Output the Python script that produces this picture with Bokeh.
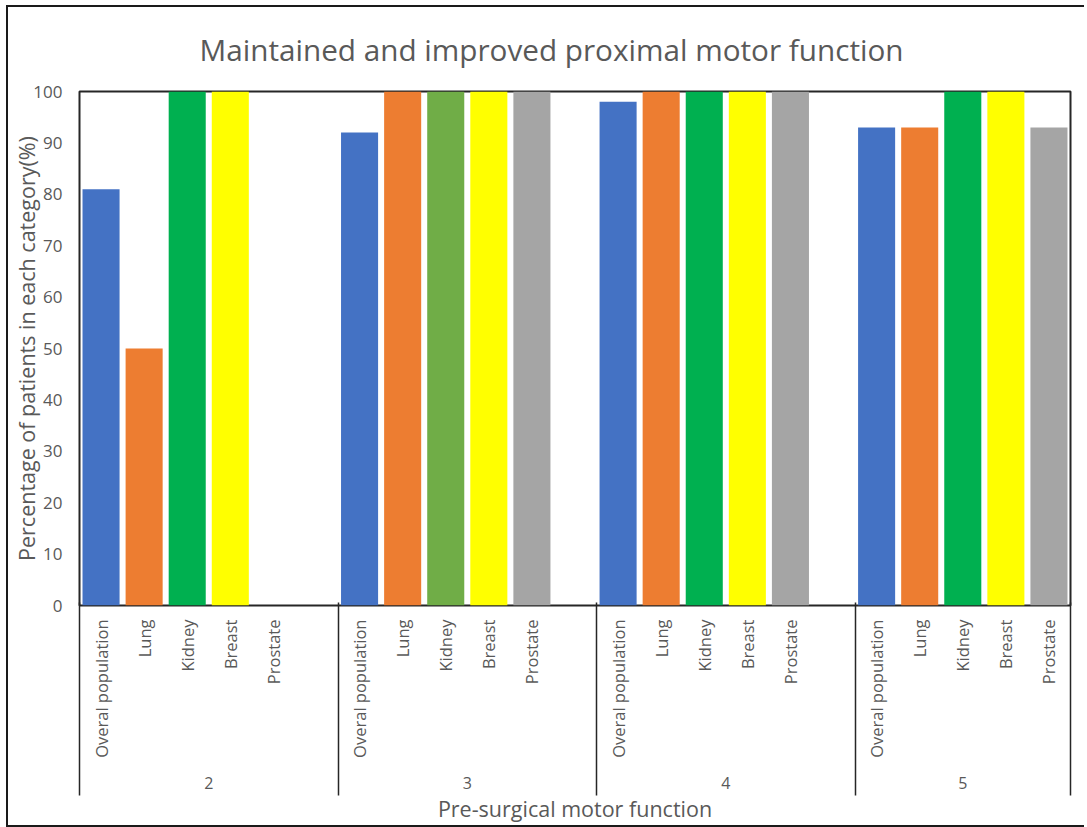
import math
from bokeh.plotting import figure
from bokeh.models import ColumnDataSource, Range1d, FixedTicker, LinearAxis
from bokeh.embed import file_html
from bokeh.resources import INLINE

# ---------------- data ----------------
groups = ["2", "3", "4", "5"]
subcategories = ["Overal population", "Lung", "Kidney", "Breast", "Prostate"]
overall = [81, 92, 98, 93]
lung = [50, 100, 100, 93]
kidney = [100, 100, 100, 100]
breast = [100, 100, 100, 100]
prostate = [None, 100, 100, 93]
series = [overall, lung, kidney, breast, prostate]
colors = ["#4472C4", "#ED7D31", "#00B050", "#FFFF00", "#A5A5A5"]
special_color = {("3", "Kidney"): "#70AD47"}
y_ticks = list(range(0, 101, 10))

title_text = "Maintained and improved proximal motor function"
y_title = "Percentage of patients in each category(%)"
x_title = "Pre-surgical motor function"

FONT = "Open Sans"
TXT = "#595959"
LINE = "#262626"

# slot layout: each group holds its categories plus one empty slot (except the last)
n_sub = len(subcategories)
slots = [n_sub + (1 if i < len(groups) - 1 else 0) for i in range(len(groups))]
offsets = [sum(slots[:i]) for i in range(len(groups))]
total = sum(slots)

xs, tops, cols = [], [], []
label_ticks, label_over = [], {}
for gi, g in enumerate(groups):
    for si, s in enumerate(subcategories):
        xc = offsets[gi] + si + 0.5
        label_ticks.append(xc)
        label_over[xc] = s
        v = series[si][gi]
        if v is None:
            continue
        xs.append(xc)
        tops.append(v)
        cols.append(special_color.get((g, s), colors[si]))

sep_ticks = offsets + [total]
group_centers = [offsets[i] + slots[i] / 2 for i in range(len(groups))]
group_over = {c: g for c, g in zip(group_centers, groups)}

src = ColumnDataSource(dict(x=xs, top=tops, color=cols))

p = figure(frame_width=991, frame_height=514,
           x_range=Range1d(0, total), y_range=Range1d(0, 100),
           output_backend="svg", toolbar_location=None,
           x_axis_location=None,
           min_border_left=71, min_border_right=14,
           min_border_top=84, min_border_bottom=219,
           background_fill_color="white", border_fill_color="white")
p.margin = (5, 0, 0, 6)
p.styles = {"border-left": "2px solid #1a1a1a",
            "border-top": "2px solid #1a1a1a",
            "border-bottom": "2px solid #1a1a1a",
            "border-right": "none"}

p.vbar(x="x", top="top", bottom=0, width=0.86, color="color",
       line_color=None, source=src)

p.outline_line_color = LINE
p.outline_line_width = 2
p.grid.visible = False

# title
p.title.text = title_text
p.title.text_font = FONT
p.title.text_font_size = "29.7px"
p.title.text_font_style = "normal"
p.title.text_color = TXT
p.title.align = "left"
p.title.vertical_align = "top"
p.title.offset = 120
p.title.standoff = 40

# y axis
ya = p.yaxis[0]
ya.ticker = FixedTicker(ticks=y_ticks)
ya.axis_line_color = None
ya.major_tick_line_color = None
ya.minor_tick_line_color = None
ya.major_tick_out = 0
ya.major_tick_in = 0
ya.major_label_standoff = 17
ya.major_label_text_font = FONT
ya.major_label_text_font_size = "17px"
ya.major_label_text_color = TXT
ya.axis_label = y_title
ya.axis_label_text_font = FONT
ya.axis_label_text_font_size = "21.5px"
ya.axis_label_text_font_style = "normal"
ya.axis_label_text_color = TXT
ya.axis_label_standoff = -11

# category axis
cat_axis = LinearAxis(ticker=FixedTicker(ticks=label_ticks),
                      major_label_overrides=label_over,
                      major_label_orientation=math.pi / 2)
cat_axis.axis_line_color = None
cat_axis.major_tick_line_color = None
cat_axis.minor_tick_line_color = None
cat_axis.major_tick_out = 0
cat_axis.major_tick_in = 0
cat_axis.major_label_standoff = 14
cat_axis.major_label_text_font = FONT
cat_axis.major_label_text_font_size = "16.5px"
cat_axis.major_label_text_color = TXT
p.add_layout(cat_axis, "below")

# group axis
grp_axis = LinearAxis(ticker=FixedTicker(ticks=group_centers),
                      major_label_overrides=group_over)
grp_axis.axis_line_color = None
grp_axis.major_tick_line_color = None
grp_axis.minor_tick_line_color = None
grp_axis.major_tick_out = 0
grp_axis.major_tick_in = 0
grp_axis.major_label_standoff = 16
grp_axis.major_label_text_font = FONT
grp_axis.major_label_text_font_size = "16px"
grp_axis.major_label_text_color = TXT
p.add_layout(grp_axis, "below")

# axis title + group separators (minor ticks reaching up to the plot area)
sep_axis = LinearAxis(ticker=FixedTicker(ticks=[], minor_ticks=sep_ticks),
                      major_label_text_font_size="0px")
sep_axis.axis_line_color = None
sep_axis.major_tick_line_color = None
sep_axis.major_tick_out = 0
sep_axis.major_tick_in = 0
sep_axis.minor_tick_in = 189
sep_axis.minor_tick_out = 4
sep_axis.minor_tick_line_color = LINE
sep_axis.minor_tick_line_width = 1.5
sep_axis.major_label_standoff = 0
sep_axis.axis_label = x_title
sep_axis.axis_label_standoff = -2
sep_axis.axis_label_text_font = FONT
sep_axis.axis_label_text_font_size = "21.5px"
sep_axis.axis_label_text_font_style = "normal"
sep_axis.axis_label_text_color = TXT
p.add_layout(sep_axis, "below")

open("out.html", "w").write(file_html(p, INLINE))
